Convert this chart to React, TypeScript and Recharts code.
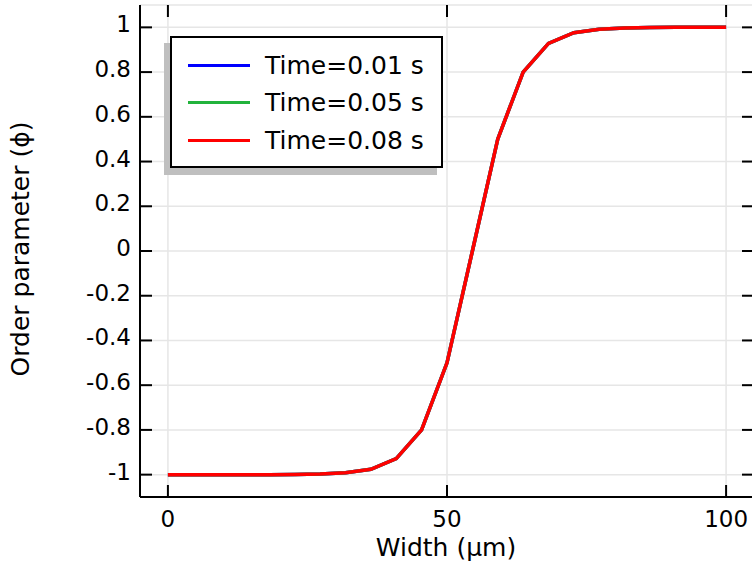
import { LineChart, Line, XAxis, YAxis, CartesianGrid } from 'recharts';

// width positions along the profile (µm)
const widthUm = [
  0, 4.55, 9.09, 13.64, 18.18, 22.73, 27.27, 31.82, 36.36, 40.91, 45.45, 50,
  54.55, 59.09, 63.64, 68.18, 72.73, 77.27, 81.82, 86.36, 90.91, 95.45, 100,
];

// order parameter at three times (curves overlap)
const phiT001 = [
  -1, -1, -1, -1, -1, -0.999, -0.997, -0.992, -0.976, -0.928, -0.8, -0.5,
  0, 0.5, 0.8, 0.928, 0.976, 0.992, 0.997, 0.999, 1, 1, 1,
];
const phiT005 = [
  -1, -1, -1, -1, -1, -0.999, -0.997, -0.992, -0.976, -0.928, -0.8, -0.5,
  0, 0.5, 0.8, 0.928, 0.976, 0.992, 0.997, 0.999, 1, 1, 1,
];
const phiT008 = [
  -1, -1, -1, -1, -1, -0.999, -0.997, -0.992, -0.976, -0.928, -0.8, -0.5,
  0, 0.5, 0.8, 0.928, 0.976, 0.992, 0.997, 0.999, 1, 1, 1,
];

const seriesNames = ['Time=0.01 s', 'Time=0.05 s', 'Time=0.08 s'];
const seriesKeys = ['t001', 't005', 't008'];
const seriesColors = ['#0000ff', '#22b33c', '#ff0000'];

const xTicks = [0, 50, 100];
const yTicks = [-1, -0.8, -0.6, -0.4, -0.2, 0, 0.2, 0.4, 0.6, 0.8, 1];

const data = widthUm.map((w, i) => ({
  w,
  t001: phiT001[i],
  t005: phiT005[i],
  t008: phiT008[i],
}));

// plot frame (px)
const LEFT = 140;
const TOP = 5;
const RIGHT = 754;
const BOTTOM = 497;
const TICK = 12;
const FONT = '"DejaVu Sans", sans-serif';

const XTick = (props: any) => {
  const { x, payload } = props;
  return (
    <g>
      <line x1={x} x2={x} y1={BOTTOM} y2={BOTTOM - TICK} stroke="#000" strokeWidth={2} />
      <line x1={x} x2={x} y1={TOP} y2={TOP + TICK} stroke="#000" strokeWidth={2} />
      <text x={x} y={527} textAnchor="middle" fontSize={23} fontFamily={FONT} fill="#000">
        {payload.value}
      </text>
    </g>
  );
};

const YTick = (props: any) => {
  const { y, payload } = props;
  return (
    <g>
      <line x1={LEFT} x2={LEFT + TICK} y1={y} y2={y} stroke="#000" strokeWidth={2} />
      <line x1={RIGHT - TICK} x2={RIGHT} y1={y} y2={y} stroke="#000" strokeWidth={2} />
      <text x={131} y={y + 5} textAnchor="end" fontSize={23} fontFamily={FONT} fill="#000">
        {payload.value}
      </text>
    </g>
  );
};

function ChartLegend() {
  return (
    <>
      <div
        style={{
          position: 'absolute', left: 164, top: 43, width: 273, height: 132,
          background: '#bfbfbf',
        }}
      />
      <div
        style={{
          position: 'absolute', left: 170, top: 36, width: 269, height: 128,
          background: '#fff', border: '2px solid #000',
        }}
      >
        {seriesNames.map((name, i) => (
          <div
            key={name}
            style={{
              position: 'absolute', left: 0, top: 9 + i * 37.5, height: 36,
              display: 'flex', alignItems: 'center',
            }}
          >
            <div style={{ marginLeft: 16, width: 62, height: 3, background: seriesColors[i] }} />
            <span style={{ marginLeft: 15, fontSize: 25, fontFamily: FONT, color: '#000', whiteSpace: 'nowrap' }}>
              {name}
            </span>
          </div>
        ))}
      </div>
    </>
  );
}

export default function App() {
  return (
    <div
      style={{
        position: 'absolute', left: 0, top: 0, width: 752, height: 565,
        overflow: 'hidden', background: '#fff',
      }}
    >
      <LineChart width={760} height={565} data={data} margin={{ top: TOP, right: 760 - RIGHT, bottom: 0, left: 0 }}>
        <CartesianGrid stroke="#e6e6e6" strokeWidth={1.5} />
        <XAxis
          dataKey="w"
          type="number"
          domain={[-5, 105]}
          ticks={xTicks}
          height={565 - BOTTOM}
          tickLine={false}
          axisLine={{ stroke: '#000', strokeWidth: 2 }}
          tick={<XTick />}
          label={{
            content: () => (
              <text x={446} y={556} textAnchor="middle" fontSize={25} fontFamily={FONT} fill="#000">
                Width (μm)
              </text>
            ),
          }}
        />
        <XAxis
          xAxisId="top"
          dataKey="w"
          type="number"
          orientation="top"
          domain={[-5, 105]}
          ticks={xTicks}
          height={0}
          tick={false}
          tickLine={false}
          axisLine={{ stroke: '#000', strokeWidth: 2 }}
        />
        <YAxis
          type="number"
          domain={[-1.1, 1.1]}
          ticks={yTicks}
          width={LEFT}
          tickLine={false}
          axisLine={{ stroke: '#000', strokeWidth: 2 }}
          tick={<YTick />}
          label={{
            content: () => (
              <text
                x={29}
                y={249}
                transform="rotate(-90 29 249)"
                textAnchor="middle"
                fontSize={25}
                fontFamily={FONT}
                fill="#000"
              >
                Order parameter (ϕ)
              </text>
            ),
          }}
        />
        <YAxis
          yAxisId="right"
          orientation="right"
          type="number"
          domain={[-1.1, 1.1]}
          width={0}
          tick={false}
          tickLine={false}
          axisLine={{ stroke: '#000', strokeWidth: 2 }}
        />
        {seriesKeys.map((k, i) => (
          <Line
            key={k}
            dataKey={k}
            name={seriesNames[i]}
            type="linear"
            stroke={seriesColors[i]}
            strokeWidth={3.5}
            dot={false}
            isAnimationActive={false}
          />
        ))}
      </LineChart>
      <ChartLegend />
    </div>
  );
}
